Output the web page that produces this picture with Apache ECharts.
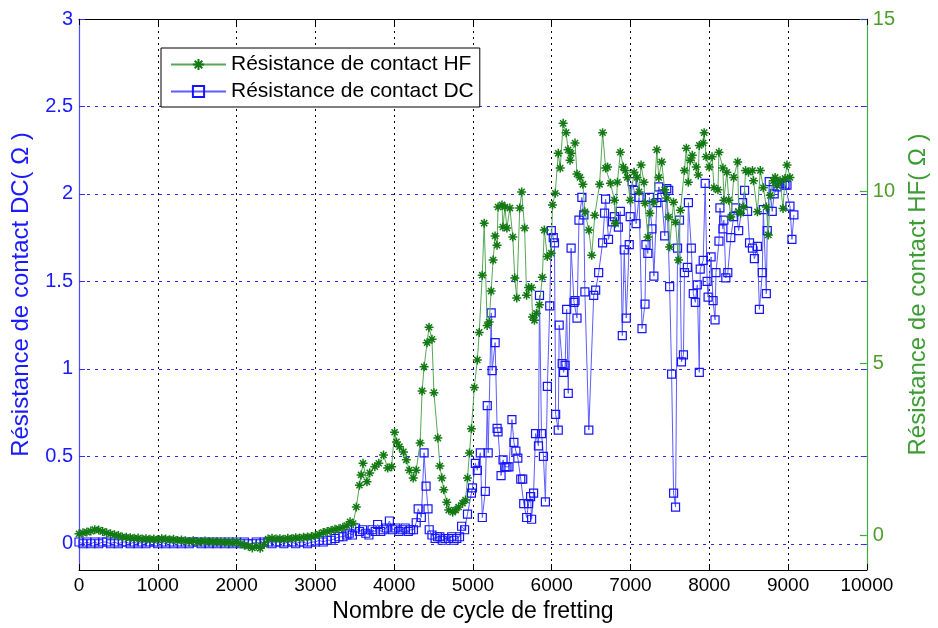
<!DOCTYPE html>
<html>
<head>
<meta charset="utf-8">
<script src="https://cdn.jsdelivr.net/npm/echarts@6/dist/echarts.min.js"></script>
<style>
html,body{margin:0;padding:0;background:#fff;}
#chart{width:938px;height:628px;}
</style>
</head>
<body>
<div id="chart"></div>
<script>
// ---- Data (cycle, value) ----
const seriesNames = ['Résistance de contact HF', 'Résistance de contact DC'];
const xTicks = [0,1000,2000,3000,4000,5000,6000,7000,8000,9000,10000];
const dcTicks = [0,0.5,1,1.5,2,2.5,3];
const hfTicks = [0,5,10,15];

const hfData = [[0,0.05],[50,0.08],[100,0.1],[150,0.13],[200,0.17],[250,0.16],[300,0.12],[350,0.08],[400,0.05],[450,0.02],[500,0.0],[550,-0.04],[600,-0.05],[650,-0.06],[700,-0.08],[750,-0.07],[800,-0.1],[850,-0.09],[900,-0.11],[950,-0.1],[1000,-0.12],[1050,-0.09],[1100,-0.1],[1150,-0.12],[1200,-0.11],[1250,-0.14],[1300,-0.13],[1350,-0.15],[1400,-0.17],[1450,-0.15],[1500,-0.19],[1550,-0.17],[1600,-0.16],[1650,-0.18],[1700,-0.17],[1750,-0.19],[1800,-0.18],[1850,-0.2],[1900,-0.19],[1950,-0.21],[2000,-0.19],[2050,-0.24],[2100,-0.28],[2150,-0.31],[2200,-0.36],[2250,-0.3],[2300,-0.37],[2350,-0.26],[2400,-0.1],[2450,-0.08],[2500,-0.1],[2550,-0.09],[2600,-0.11],[2650,-0.08],[2700,-0.09],[2750,-0.06],[2800,-0.07],[2850,-0.05],[2900,-0.04],[2950,-0.03],[3000,0.0],[3050,0.04],[3100,0.09],[3150,0.12],[3200,0.15],[3250,0.18],[3300,0.2],[3350,0.24],[3400,0.29],[3440,0.4],[3480,0.35],[3520,0.83],[3560,1.46],[3580,1.76],[3605,2.1],[3655,1.56],[3690,1.82],[3755,2.0],[3805,2.1],[3865,2.34],[3918,1.96],[3968,2.0],[4005,3.0],[4030,2.72],[4068,2.58],[4118,2.43],[4155,2.2],[4193,1.9],[4243,1.67],[4280,1.9],[4330,2.69],[4355,4.2],[4380,4.9],[4418,5.6],[4443,6.05],[4480,5.7],[4505,4.15],[4555,2.83],[4580,2.02],[4605,1.67],[4630,1.33],[4668,0.97],[4693,0.74],[4743,0.68],[4780,0.74],[4818,0.83],[4868,0.94],[4906,1.03],[4931,1.67],[4956,2.4],[4981,3.1],[5018,4.3],[5056,5.1],[5080,5.9],[5118,7.56],[5143,9.07],[5181,6.1],[5206,6.2],[5231,7.1],[5256,8.0],[5281,8.7],[5306,8.43],[5319,9.54],[5369,9.6],[5381,8.96],[5406,9.54],[5431,8.93],[5469,9.51],[5506,8.67],[5531,7.48],[5556,6.9],[5594,9.51],[5619,9.98],[5656,8.93],[5681,6.98],[5706,7.2],[5744,7.2],[5756,6.35],[5781,6.25],[5806,6.45],[5844,6.7],[5881,7.5],[5906,8.87],[5944,8.1],[5994,8.2],[6010,9.6],[6045,9.94],[6083,11.1],[6108,10.67],[6145,11.97],[6183,11.7],[6208,11.2],[6233,10.9],[6246,11.1],[6296,11.4],[6321,10.5],[6358,10.4],[6396,10.2],[6421,9.4],[6471,8.87],[6508,8.14],[6546,9.3],[6608,10.2],[6646,11.7],[6684,10.67],[6709,10.7],[6746,10.23],[6796,9.74],[6808,9.07],[6834,10.26],[6871,11.13],[6909,10.7],[6934,10.6],[6959,10.4],[6996,9.74],[7046,10.55],[7084,10.4],[7109,9.98],[7134,10.76],[7171,10.26],[7184,9.65],[7221,8.67],[7246,9.36],[7296,9.68],[7334,11.2],[7359,10.4],[7396,10.85],[7434,10.04],[7459,9.8],[7484,9.25],[7496,8.38],[7546,9.68],[7571,9.1],[7609,8.0],[7634,9.45],[7684,10.6],[7709,11.25],[7734,10.26],[7759,10.9],[7785,11.04],[7835,10.7],[7860,10.47],[7873,11.33],[7923,11.4],[7935,11.7],[7960,11.0],[7998,10.7],[8035,11.0],[8060,10.1],[8110,10.04],[8123,11.13],[8173,10.67],[8185,9.74],[8223,10.55],[8248,9.74],[8273,9.25],[8310,10.4],[8360,10.85],[8373,9.4],[8398,9.36],[8436,9.54],[8461,10.6],[8498,10.55],[8548,10.6],[8561,10.3],[8611,9.4],[8648,10.6],[8686,10.1],[8724,9.54],[8749,8.73],[8774,9.88],[8811,10.3],[8836,10.4],[8861,10.17],[8899,10.3],[8936,9.5],[8961,10.37],[8986,10.76],[9024,10.4]];

const dcData = [[0,0.01],[50,0.0],[100,0.01],[150,0.0],[200,0.01],[250,0.0],[300,0.01],[350,0.01],[400,0.0],[450,0.01],[500,0.0],[550,0.01],[600,0.01],[650,0.0],[700,0.01],[750,0.0],[800,0.01],[850,0.0],[900,0.01],[950,0.01],[1000,0.0],[1050,0.01],[1100,0.0],[1150,0.01],[1200,0.0],[1250,0.01],[1300,0.0],[1350,0.01],[1400,0.0],[1450,0.01],[1500,0.01],[1550,0.0],[1600,0.01],[1650,0.0],[1700,0.01],[1750,0.0],[1800,0.01],[1850,0.0],[1900,0.01],[1950,0.0],[2000,0.01],[2050,0.0],[2100,0.01],[2150,0.0],[2200,0.0],[2250,0.01],[2300,0.0],[2350,0.01],[2400,0.01],[2450,0.0],[2500,0.01],[2550,0.01],[2600,0.0],[2650,0.01],[2700,0.01],[2750,0.0],[2800,0.01],[2850,0.01],[2900,0.0],[2950,0.01],[3000,0.01],[3050,0.02],[3100,0.01],[3150,0.02],[3200,0.02],[3250,0.03],[3300,0.04],[3350,0.04],[3400,0.05],[3430,0.06],[3470,0.05],[3510,0.09],[3560,0.07],[3600,0.08],[3640,0.06],[3680,0.05],[3720,0.08],[3760,0.07],[3790,0.11],[3830,0.07],[3860,0.08],[3900,0.09],[3940,0.13],[3980,0.08],[4020,0.09],[4060,0.07],[4100,0.08],[4140,0.09],[4180,0.07],[4210,0.08],[4245,0.08],[4280,0.12],[4305,0.2],[4345,0.15],[4380,0.52],[4405,0.33],[4430,0.2],[4445,0.08],[4480,0.05],[4520,0.03],[4550,0.04],[4580,0.04],[4610,0.02],[4645,0.03],[4690,0.03],[4730,0.04],[4760,0.02],[4795,0.03],[4830,0.04],[4856,0.1],[4894,0.08],[4931,0.17],[4981,0.29],[4994,0.32],[5031,0.46],[5056,0.42],[5094,0.52],[5119,0.15],[5157,0.3],[5182,0.79],[5194,0.52],[5232,1.32],[5244,0.99],[5282,1.15],[5307,0.66],[5319,0.64],[5357,0.39],[5382,0.48],[5407,0.44],[5432,0.44],[5457,0.44],[5495,0.71],[5520,0.58],[5545,0.53],[5570,0.49],[5607,0.37],[5632,0.37],[5645,0.23],[5682,0.15],[5707,0.23],[5732,0.27],[5745,0.14],[5770,0.29],[5795,0.63],[5832,0.56],[5845,1.42],[5870,0.63],[5895,0.5],[5920,0.24],[5945,0.9],[5975,1.36],[5995,1.79],[6020,1.75],[6035,1.72],[6050,0.74],[6083,0.65],[6095,1.25],[6133,1.03],[6150,0.98],[6170,1.02],[6190,1.34],[6210,0.86],[6246,1.69],[6283,1.38],[6296,1.39],[6321,1.29],[6346,1.85],[6383,1.98],[6408,1.88],[6421,1.44],[6471,0.65],[6533,1.42],[6558,1.45],[6596,1.55],[6646,1.72],[6671,1.89],[6684,1.97],[6721,1.74],[6771,1.84],[6796,1.87],[6846,1.81],[6871,1.9],[6896,1.19],[6921,1.68],[6946,1.29],[6984,1.71],[6996,1.87],[7021,2.07],[7046,2.02],[7071,1.83],[7109,1.98],[7146,1.23],[7184,1.37],[7196,1.71],[7220,1.66],[7240,1.98],[7272,1.8],[7297,1.53],[7334,1.95],[7359,2.04],[7397,1.98],[7434,1.76],[7460,2.03],[7485,2.02],[7497,1.47],[7522,0.97],[7547,0.29],[7572,0.21],[7597,1.69],[7622,1.85],[7647,1.04],[7672,1.08],[7685,1.55],[7722,1.58],[7735,1.95],[7772,1.69],[7797,1.43],[7823,1.38],[7848,1.48],[7873,0.98],[7885,1.57],[7923,1.62],[7948,2.06],[7973,1.5],[7985,1.41],[8023,1.64],[8048,1.39],[8073,1.28],[8085,1.55],[8123,1.73],[8135,1.92],[8173,1.8],[8185,1.85],[8210,1.52],[8235,1.55],[8273,1.75],[8310,1.87],[8336,1.92],[8373,1.79],[8423,1.95],[8448,2.02],[8486,1.9],[8511,1.72],[8548,1.69],[8573,1.63],[8611,1.7],[8636,1.34],[8673,1.55],[8686,1.91],[8724,1.43],[8736,1.79],[8761,2.07],[8799,1.9],[8824,2.0],[8861,2.04],[8886,2.06],[8924,2.06],[8961,2.05],[8986,2.05],[9024,1.93],[9049,1.74],[9074,1.88]];

// ---- Styling ----
const FONT = '"Liberation Sans", Arial, sans-serif';
const BLUE = '#1a1aff';
const GREEN_TXT = '#4f9e2a';
const GREEN_AX = '#44a844';
const starPath = 'path://M0 5L10 5M5 0L5 10M1.6 1.6L8.4 8.4M8.4 1.6L1.6 8.4';
const plainNum = v => String(v);

const chart = echarts.init(document.getElementById('chart'), null, {renderer: 'canvas'});
chart.setOption({
  animation: false,
  backgroundColor: '#fff',
  grid: {left: 79, right: 60, top: 19, bottom: 58, containLabel: false},
  legend: {
    orient: 'vertical',
    left: 161, top: 48,
    padding: [6, 6, 5, 9],
    itemGap: 6,
    itemWidth: 55,
    itemHeight: 14,
    backgroundColor: '#fff',
    borderColor: '#000',
    borderWidth: 1,
    textStyle: {fontFamily: FONT, fontSize: 21, color: '#000', lineHeight: 21},
    data: seriesNames
  },
  xAxis: [{
    type: 'value', min: 0, max: 10000, interval: 1000, position: 'bottom',
    name: 'Nombre de cycle de fretting', nameLocation: 'middle', nameGap: 28,
    nameTextStyle: {fontFamily: FONT, fontSize: 23, color: '#000'},
    axisLine: {show: true, onZero: false, lineStyle: {color: '#000', width: 1}},
    axisTick: {show: true, inside: true, length: 6, lineStyle: {color: '#000'}},
    axisLabel: {fontFamily: FONT, fontSize: 19, color: '#000', margin: 6, formatter: plainNum, customValues: xTicks},
    splitLine: {show: true, lineStyle: {color: '#000', type: [2, 4], width: 1}}
  }, {
    type: 'value', min: 0, max: 10000, interval: 1000, position: 'top',
    axisLine: {show: true, onZero: false, lineStyle: {color: '#000', width: 1}},
    axisTick: {show: true, inside: true, length: 6, lineStyle: {color: '#000'}},
    axisLabel: {show: false},
    splitLine: {show: false}
  }],
  yAxis: [{
    type: 'value', min: -0.15, max: 3, splitNumber: 6, position: 'left',
    name: 'Résistance de contact DC( Ω )', nameLocation: 'middle', nameGap: 46, nameRotate: 90,
    nameTextStyle: {fontFamily: FONT, fontSize: 24, color: BLUE},
    axisLine: {show: true, onZero: false, lineStyle: {color: '#4a4aff', width: 1.2}},
    axisTick: {show: true, inside: true, length: 6, customValues: dcTicks, lineStyle: {color: '#3030ff'}},
    axisLabel: {fontFamily: FONT, fontSize: 20, color: BLUE, margin: 6, customValues: dcTicks, formatter: plainNum},
    splitLine: {show: true, lineStyle: {color: '#2a2aff', type: [3, 5], width: 1}}
  }, {
    type: 'value', min: -1, max: 15, splitNumber: 3, position: 'right',
    name: 'Résistance de contact HF( Ω )', nameLocation: 'middle', nameGap: 36, nameRotate: 90,
    nameTextStyle: {fontFamily: FONT, fontSize: 24, color: '#3d9d35'},
    axisLine: {show: true, onZero: false, lineStyle: {color: GREEN_AX, width: 1.2}},
    axisTick: {show: true, inside: true, length: 7, customValues: hfTicks, lineStyle: {color: GREEN_AX, width: 1.2}},
    axisLabel: {fontFamily: FONT, fontSize: 20, color: GREEN_TXT, margin: 6, customValues: hfTicks, formatter: plainNum},
    splitLine: {show: false}
  }, {
    type: 'value', min: -0.15, max: 3, splitNumber: 6, position: 'right',
    axisLine: {show: false, onZero: false},
    axisTick: {show: true, inside: true, length: 6, customValues: dcTicks, lineStyle: {color: '#3030ff'}},
    axisLabel: {show: false},
    splitLine: {show: false}
  }],
  series: [{
    name: seriesNames[1], type: 'line', xAxisIndex: 0, yAxisIndex: 0,
    data: dcData, z: 2,
    symbol: 'rect', symbolSize: 8,
    itemStyle: {color: 'rgba(255,255,255,0)', borderColor: '#1414ff', borderWidth: 1.2},
    lineStyle: {color: '#5c5cff', width: 1},
    emphasis: {disabled: true}
  }, {
    name: seriesNames[0], type: 'line', xAxisIndex: 0, yAxisIndex: 1,
    data: hfData, z: 3,
    symbol: starPath, symbolSize: 9,
    itemStyle: {color: '#137a13', borderColor: '#137a13', borderWidth: 1.5},
    lineStyle: {color: '#56a856', width: 1},
    emphasis: {disabled: true}
  }]
});
</script>
</body>
</html>
